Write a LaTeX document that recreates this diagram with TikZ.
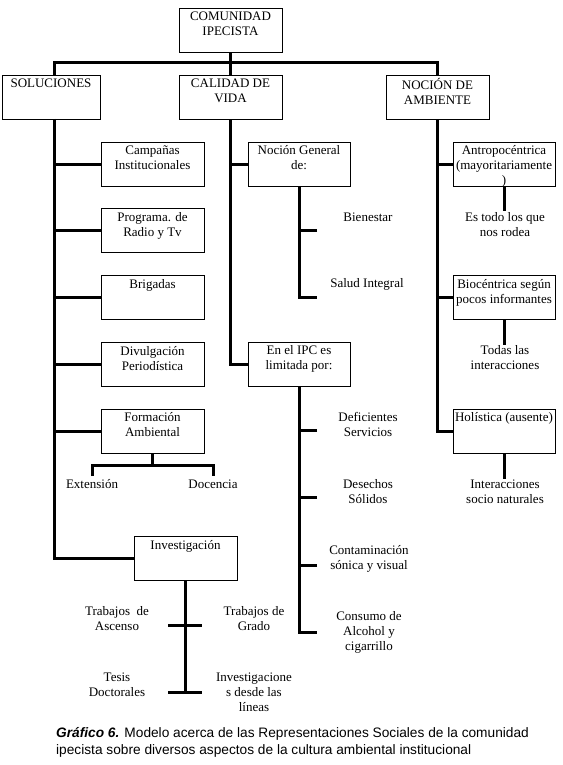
\documentclass[tikz,border=0pt]{standalone}
\usepackage{fontspec}
\setmainfont{Liberation Serif}
\newfontfamily\capfont{Liberation Sans}
\begin{document}
\begin{tikzpicture}[x=1pt,y=-1pt,
  box/.style={draw, line width=0.9pt, minimum width=103pt, minimum height=44pt, inner sep=0pt, fill=white},
  boxtxt/.style={anchor=north, align=center, inner sep=0pt, font=\fontsize{13}{15}\selectfont, yshift=-4pt},
  txt/.style={align=center, inner sep=1pt, font=\fontsize{13}{15}\selectfont},
  conn/.style={line width=3pt}]
\fill[white] (0,0) rectangle (562,765);
\useasboundingbox (0,0) rectangle (562,765);

% ---- boxes ----
\node[box] (com) at (230.5,30) {};
\node[box, minimum width=98pt] (sol) at (51,97) {};
\node[box] (cal) at (230.5,97) {};
\node[box] (noc) at (437.5,97) {};

\node[box] (camp) at (152.5,164) {};
\node[box] (prog) at (152.5,230.5) {};
\node[box] (brig) at (152.5,297.5) {};
\node[box] (divu) at (152.5,364.5) {};
\node[box] (form) at (152.5,431) {};
\node[box] (inv) at (185.5,558.5) {};

\node[box, minimum width=102pt] (ng) at (299,164) {};
\node[box, minimum width=102pt] (ipc) at (299,364) {};

\node[box, minimum width=102pt] (antro) at (504,164) {};
\node[box, minimum width=102pt] (bio) at (504,297.5) {};
\node[box, minimum width=102pt] (hol) at (504,431) {};

% ---- box texts ----
\node[boxtxt] (comt) at (com.north) {COMUNIDAD\\IPECISTA};
\node[boxtxt] (solt) at (sol.north) {SOLUCIONES};
\node[boxtxt] (calt) at (cal.north) {CALIDAD DE\\VIDA};
\node[boxtxt] (noct) at (noc.north) {NOCIÓN DE\\AMBIENTE};
\node[boxtxt] (campt) at (camp.north) {Campañas\\Institucionales};
\node[boxtxt] (progt) at (prog.north) {Programa. de\\Radio y Tv};
\node[boxtxt] (brigt) at (brig.north) {Brigadas};
\node[boxtxt] (divut) at (divu.north) {Divulgación\\Periodística};
\node[boxtxt] (formt) at (form.north) {Formación\\Ambiental};
\node[boxtxt] (invt) at (inv.north) {Investigación};
\node[boxtxt] (ngt) at (ng.north) {Noción General\\de:};
\node[boxtxt] (ipct) at (ipc.north) {En el IPC es\\limitada por:};
\node[boxtxt] (antrot) at (antro.north) {Antropocéntrica\\(mayoritariamente\\)};
\node[boxtxt] (biot) at (bio.north) {Biocéntrica según\\pocos informantes};
\node[boxtxt] (holt) at (hol.north) {Holística (ausente)};

% ---- free texts ----
\node[txt] (ext) at (92,484) {Extensión};
\node[txt] (doc) at (213,484) {Docencia};
\node[txt] (bien) at (368,217) {Bienestar};
\node[txt] (salud) at (367,284) {Salud Integral};
\node[txt] (defi) at (368,424.5) {Deficientes\\Servicios};
\node[txt] (dese) at (368,492) {Desechos\\Sólidos};
\node[txt] (cont) at (369,558.5) {Contaminación\\sónica y visual};
\node[txt] (cons) at (369,632) {Consumo de\\Alcohol y\\cigarrillo};
\node[txt] (esto) at (505,224.5) {Es todo los que\\nos rodea};
\node[txt] (todas) at (505,358) {Todas las\\interacciones};
\node[txt] (inter) at (505,492) {Interacciones\\socio naturales};
\node[txt] (asc) at (117,618.5) {Trabajos\ \ de\\Ascenso};
\node[txt] (grado) at (254,618.5) {Trabajos de\\Grado};
\node[txt] (tesis) at (117,685) {Tesis\\Doctorales};
\node[txt] (lineas) at (254,692) {Investigacione\\s desde las\\líneas};

% ---- connectors: top level ----
\coordinate (sv) at (54,119);
\coordinate (bus) at (230.5,63);
\draw[conn] (com.south) -- (cal.north);
\draw[conn] (sv |- sol.north) -- (sv |- bus) -- (noc.north |- bus) -- (noc.north);

% ---- soluciones ----
\draw[conn] (sv) |- (inv.west);
\foreach \b in {camp,prog,brig,divu,form}
  \draw[conn] (\b.west) -- (\b.west -| sv);
\coordinate (fj) at (152.5,465);
\coordinate (fe) at (92,476);
\coordinate (fd) at (213,476);
\draw[conn] (form.south) -- (fj);
\draw[conn] (fe) |- (fj) -| (fd);
\coordinate (it1l) at (168,625);
\coordinate (it1r) at (202,625);
\coordinate (it2l) at (168,692);
\coordinate (it2r) at (202,692);
\draw[conn] (inv.south) -- (inv.south |- it2l);
\draw[conn] (it1l) -- (it1r);
\draw[conn] (it2l) -- (it2r);

% ---- calidad de vida ----
\draw[conn] (cal.south) |- (ipc.west);
\draw[conn] (ng.west) -- (ng.west -| cal.south);
\coordinate (nb1) at (317,230);
\coordinate (nb2) at (317,297);
\draw[conn] (ng.south) |- (nb2);
\draw[conn] (nb1) -- (nb1 -| ng.south);
\coordinate (ib1) at (317,430);
\coordinate (ib2) at (317,497);
\coordinate (ib3) at (317,565);
\coordinate (ib4) at (317,632);
\draw[conn] (ipc.south) |- (ib4);
\foreach \c in {ib1,ib2,ib3}
  \draw[conn] (\c) -- (\c -| ipc.south);

% ---- nocion de ambiente ----
\draw[conn] (noc.south) |- (hol.west);
\draw[conn] (antro.west) -- (antro.west -| noc.south);
\draw[conn] (bio.west) -- (bio.west -| noc.south);
\draw[conn] (antro.south) -- (antro.south |- esto.north);
\draw[conn] (bio.south) -- (bio.south |- todas.north);
\draw[conn] (hol.south) -- (hol.south |- inter.north);

% ---- caption ----
\node[anchor=north west, align=left, inner sep=0pt, font=\capfont\fontsize{13.7}{17}\selectfont] (cap) at (56,727)
  {\textbf{\textit{Gráfico 6.}} Modelo acerca de las Representaciones Sociales de la comunidad\\
   ipecista sobre diversos aspectos de la cultura ambiental institucional};
\end{tikzpicture}
\end{document}
